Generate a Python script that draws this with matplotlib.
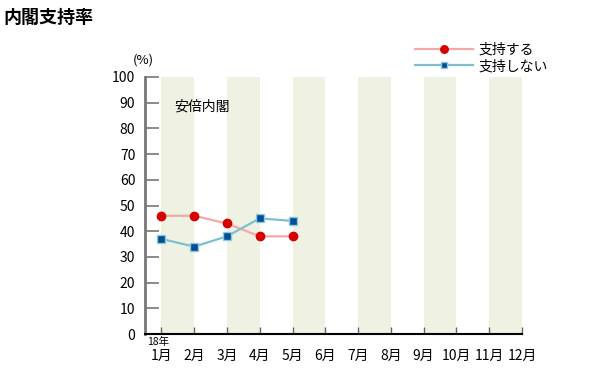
import matplotlib.pyplot as plt

plt.rcParams['font.family'] = ['Noto Sans CJK JP', 'DejaVu Sans']

# データ
months = [1, 2, 3, 4, 5]
month_labels = [f"{m}月" for m in range(1, 13)]
support = [46, 46, 43, 38, 38]
nonsupport = [37, 34, 38, 45, 44]
yticks = list(range(0, 101, 10))

fig = plt.figure(figsize=(6.16, 3.78), dpi=100)
ax = fig.add_axes([145 / 616, 1 - 334 / 378, 377 / 616, 257 / 378])

# 背景の縞
for m in range(1, 12, 2):
    ax.axvspan(m, m + 1, color='#eff2e3', lw=0, zorder=0)

ax.plot(months, support, color='#f4a9a9', lw=1.6, marker='o', ms=6,
        mfc='#d50000', mec='#d50000', label='支持する', zorder=3)
ax.plot(months, nonsupport, color='#7fbfcd', lw=1.6, marker='s', ms=5.5,
        mfc='#004d99', mec='#8fc8d8', mew=1, label='支持しない', zorder=3)

ax.set_xlim(0.5, 12)
ax.set_ylim(0, 100)
ax.set_yticks(yticks)
ax.set_xticks(range(1, 13))
ax.set_xticklabels(month_labels)
ax.tick_params(axis='y', direction='in', length=10, width=1.2, color='#777777',
               labelsize=10, pad=7)
ax.tick_params(axis='x', direction='in', length=5, width=1, color='#666666',
               labelsize=10, pad=11)
for s in ['top', 'right']:
    ax.spines[s].set_visible(False)
ax.spines['left'].set_color('#777777')
ax.spines['left'].set_linewidth(2)
ax.spines['bottom'].set_color('black')
ax.spines['bottom'].set_linewidth(1.5)

fig.text(3 / 616, 1 - 17 / 378, '内閣支持率', fontsize=13, fontweight='bold',
         va='center', ha='left')
fig.text(143 / 616, 1 - 60 / 378, '(%)', fontsize=9.5, va='center', ha='center')
fig.text(174 / 616, 1 - 107 / 378, '安倍内閣', fontsize=10, va='center', ha='left')
fig.text(147 / 616, 1 - 342 / 378, '18年', fontsize=7.5, va='center', ha='left')

ax.legend(loc='upper left', bbox_to_anchor=(408 / 616, 1 - 36 / 378),
          bbox_transform=fig.transFigure, frameon=False, fontsize=10,
          handlelength=4.2, handletextpad=0.4, labelspacing=0.15, borderpad=0,
          markerscale=0.9)

plt.savefig('out.png', dpi=100)
